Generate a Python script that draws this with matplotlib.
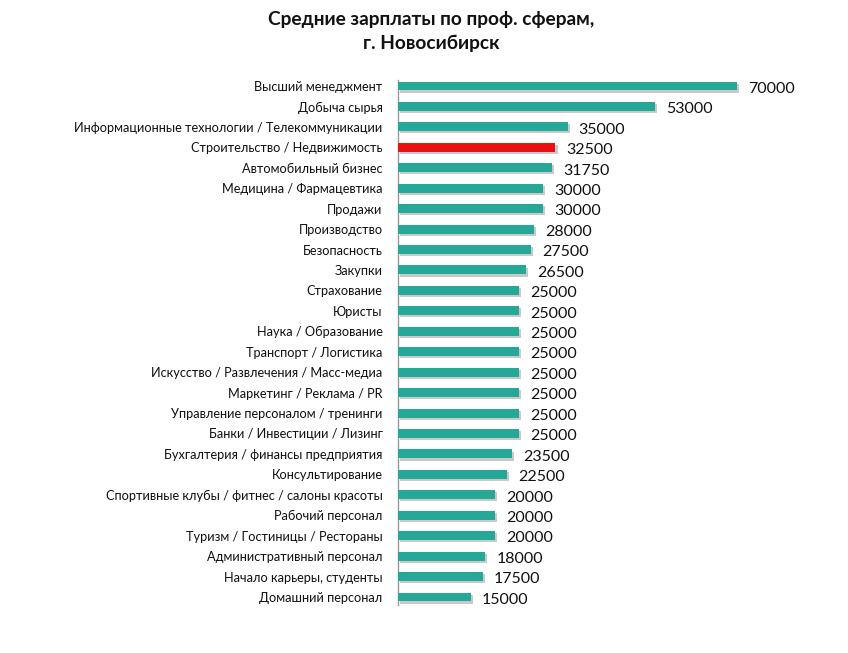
import matplotlib
matplotlib.use("Agg")
import matplotlib.pyplot as plt
import matplotlib.patheffects as pe

categories = [
    "Высший менеджмент",
    "Добыча сырья",
    "Информационные технологии / Телекоммуникации",
    "Строительство / Недвижимость",
    "Автомобильный бизнес",
    "Медицина / Фармацевтика",
    "Продажи",
    "Производство",
    "Безопасность",
    "Закупки",
    "Страхование",
    "Юристы",
    "Наука / Образование",
    "Транспорт / Логистика",
    "Искусство / Развлечения / Масс-медиа",
    "Маркетинг / Реклама / PR",
    "Управление персоналом / тренинги",
    "Банки / Инвестиции / Лизинг",
    "Бухгалтерия / финансы предприятия",
    "Консультирование",
    "Спортивные клубы / фитнес / салоны красоты",
    "Рабочий персонал",
    "Туризм / Гостиницы / Рестораны",
    "Административный персонал",
    "Начало карьеры, студенты",
    "Домашний персонал",
]
values = [70000, 53000, 35000, 32500, 31750, 30000, 30000, 28000, 27500, 26500,
          25000, 25000, 25000, 25000, 25000, 25000, 25000, 25000, 23500, 22500,
          20000, 20000, 20000, 18000, 17500, 15000]
highlight = "Строительство / Недвижимость"

teal = "#26A898"
red = "#E81010"

plt.rcParams['font.family'] = ['Lato', 'DejaVu Sans']

fig = plt.figure(figsize=(8.48, 6.53), dpi=100)
ax = fig.add_axes([398/848, 1-605/653, 436/848, 525/653])

ys = list(range(len(categories)))
colors = [red if c == highlight else teal for c in categories]
bars = ax.barh(ys, values, height=0.44, color=colors, zorder=3)
for b in bars:
    b.set_path_effects([pe.SimplePatchShadow(offset=(1.5, -1.5), shadow_rgbFace="#888888", alpha=0.45),
                        pe.Normal()])

for y, v in zip(ys, values):
    ax.annotate(f"{v}", xy=(v, y), xytext=(8, -2), textcoords="offset points",
                va="center", ha="left", fontsize=11.5, color="#111111")

ax.set_xlim(0, 90000)
ax.set_ylim(25 + 8/20.44, -6/20.44)
ax.set_yticks(ys)
ax.set_yticklabels(categories, fontsize=9.2, color="#111111")
ax.tick_params(axis='y', length=0, pad=11)
ax.set_xticks([])
for s in ["top", "right", "bottom"]:
    ax.spines[s].set_visible(False)
ax.spines["left"].set_color("#999999")
ax.spines["left"].set_linewidth(1.0)

fig.text(431/848, 1-20/653, "Средние зарплаты по проф. сферам,", ha="center", va="center",
         fontsize=13.8, fontweight="bold", color="#111111")
fig.text(431/848, 1-43/653, "г. Новосибирск", ha="center", va="center",
         fontsize=13.8, fontweight="bold", color="#111111")

fig.savefig("out.png", dpi=100)
